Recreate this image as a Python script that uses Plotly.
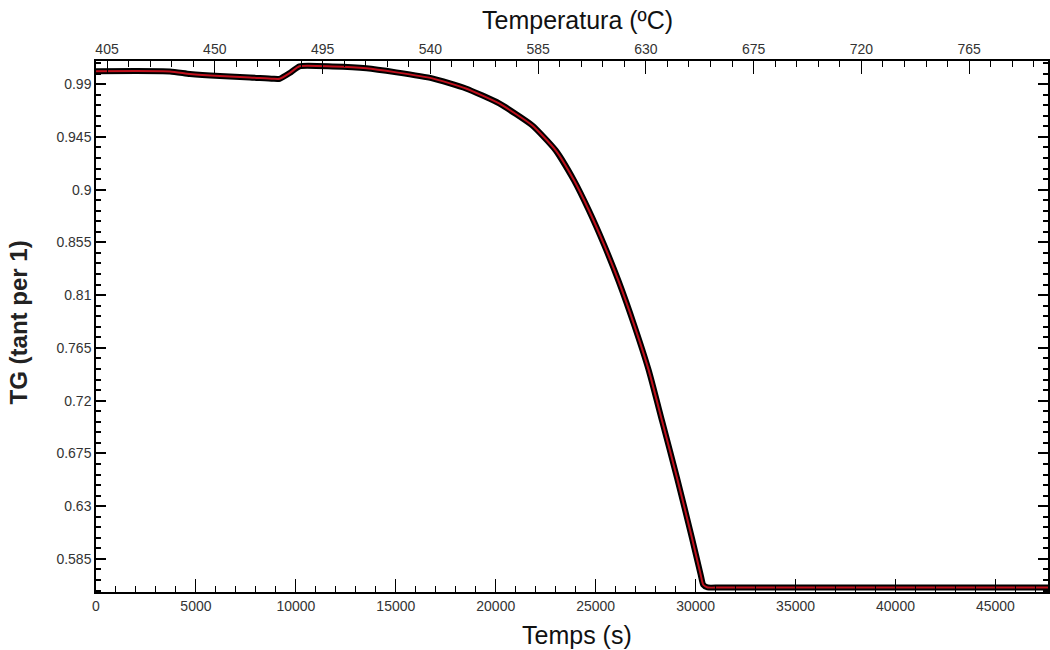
import plotly.graph_objects as go

# Data
time_s = [0, 3700, 4700, 6200, 7700, 8850, 9190, 9690, 10180, 11830, 13530,
          15030, 16825, 18507, 20170, 21817, 23000, 23914, 24663, 25412,
          26161, 26910, 27659, 28323, 29071, 29820, 30255, 30380, 30600,
          31150, 35000, 40000, 47700]
tg = [1.0010, 1.0008, 0.9986, 0.9968, 0.9957, 0.9945, 0.9945, 0.9994, 1.0052,
      1.0050, 1.0035, 1.0000, 0.9949, 0.9863, 0.9735, 0.9549, 0.9335, 0.9079,
      0.8822, 0.8533, 0.8213, 0.7853, 0.7456, 0.7026, 0.6541, 0.6027, 0.5714,
      0.5630, 0.5607, 0.5606, 0.5606, 0.5606, 0.5606]

y_ticks = [0.585, 0.63, 0.675, 0.72, 0.765, 0.81, 0.855, 0.9, 0.945, 0.99]
y_labels = ["0.585", "0.63", "0.675", "0.72", "0.765", "0.81", "0.855", "0.9", "0.945", "0.99"]
x_ticks = [0, 5000, 10000, 15000, 20000, 25000, 30000, 35000, 40000, 45000]
temp_ticks = [405, 450, 495, 540, 585, 630, 675, 720, 765]

X_RANGE = [0, 47630]
T_RANGE = [400.4, 797.9]
Y_RANGE = [0.5568, 1.0097]

fig = go.Figure()
fig.add_trace(go.Scatter(x=time_s, y=tg, mode="lines",
                         line=dict(color="black", width=6, shape="spline", smoothing=0.5),
                         hoverinfo="skip", showlegend=False))
fig.add_trace(go.Scatter(x=time_s, y=tg, mode="lines",
                         line=dict(color="#c0101c", width=2, shape="spline", smoothing=0.5),
                         showlegend=False))

FONT = "Liberation Sans, Arial, sans-serif"
tickfont = dict(family=FONT, size=14, color="#333333")
titlefont = dict(family=FONT, size=25, color="#111111")

fig.update_layout(
    width=1050, height=650,
    margin=dict(l=96, r=0, t=61, b=58),
    paper_bgcolor="white", plot_bgcolor="white",
    xaxis=dict(
        range=X_RANGE, tickvals=x_ticks, ticktext=[str(v) for v in x_ticks],
        ticks="inside", ticklen=13, tickwidth=1, tickcolor="black",
        minor=dict(dtick=1000, tick0=0, ticks="inside", ticklen=6, tickcolor="black"),
        showline=True, linecolor="black", linewidth=1.5,
        showgrid=False, zeroline=False, tickfont=tickfont,
    ),
    xaxis2=dict(
        overlaying="x", side="top", anchor="y",
        range=T_RANGE, tickvals=temp_ticks, ticktext=[str(v) for v in temp_ticks],
        ticks="inside", ticklen=13, tickwidth=1, tickcolor="black",
        minor=dict(dtick=9, tick0=405, ticks="inside", ticklen=6, tickcolor="black"),
        showline=True, linecolor="black", linewidth=1.5,
        showgrid=False, zeroline=False, tickfont=tickfont,
    ),
    yaxis=dict(
        range=Y_RANGE, tickvals=y_ticks, ticktext=y_labels,
        ticks="inside", ticklen=10, tickwidth=1.5, tickcolor="black",
        minor=dict(dtick=0.009, tick0=0.585, ticks="inside", ticklen=5, tickcolor="black"),
        showline=True, linecolor="black", linewidth=1.5, mirror="ticks",
        showgrid=False, zeroline=False, tickfont=tickfont,
    ),
    annotations=[
        dict(text="Temps (s)", xref="paper", yref="paper", x=0.505, y=-0.081,
             xanchor="center", yanchor="middle", showarrow=False, font=titlefont),
        dict(text="Temperatura (ºC)", xref="paper", yref="paper", x=0.506, y=1.077,
             xanchor="center", yanchor="middle", showarrow=False, font=titlefont),
        dict(text="<b>TG (tant per 1)</b>", xref="paper", yref="paper", x=-0.0818, y=0.508,
             xanchor="center", yanchor="middle", showarrow=False, textangle=-90,
             font=dict(family=FONT, size=24, color="#222222")),
    ],
)

# Invisible trace so the top temperature axis is rendered
fig.add_trace(go.Scatter(x=temp_ticks, y=[None] * len(temp_ticks), xaxis="x2",
                         mode="lines", showlegend=False, hoverinfo="skip"))

fig.write_html("out.html")
